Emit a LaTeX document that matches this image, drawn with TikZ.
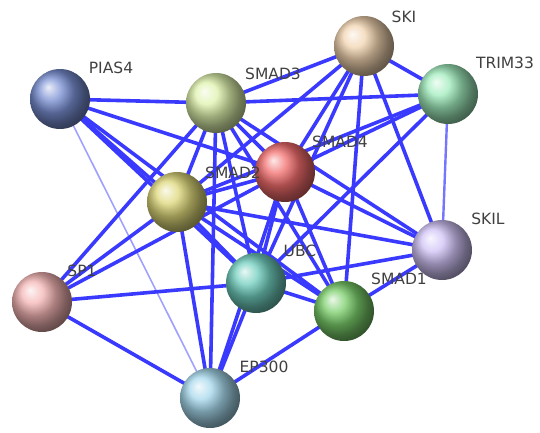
\documentclass[tikz,border=0pt]{standalone}
\usepackage{fontspec}
\setsansfont{DejaVu Sans}
\usetikzlibrary{backgrounds}
\definecolor{linkblue}{RGB}{58,58,255}
\definecolor{weakblue}{RGB}{160,160,255}
\definecolor{cPIAS}{RGB}{120,142,210}
\definecolor{cSMADiii}{RGB}{222,242,172}
\definecolor{cSKI}{RGB}{242,212,176}
\definecolor{cTRIM}{RGB}{160,236,188}
\definecolor{cSMADiv}{RGB}{242,108,108}
\definecolor{cSMADii}{RGB}{222,216,122}
\definecolor{cSKIL}{RGB}{208,194,246}
\definecolor{cUBC}{RGB}{112,206,190}
\definecolor{cSP}{RGB}{244,180,180}
\definecolor{cSMADi}{RGB}{122,206,106}
\definecolor{cEP}{RGB}{166,216,236}
\def\lblfont{\sffamily\fontsize{15.5}{16}\selectfont}
\begin{document}
\begin{tikzpicture}[x=1pt, y=-1pt,
	prot/.style={circle, minimum size=60pt, inner sep=0pt, ball color=#1},
	lbl/.style={text=black!75, font=\lblfont, inner sep=0pt},
	link/.style={line width=3.6pt, linkblue},
	weak/.style={line width=1.6pt, weakblue}]
	\useasboundingbox (0,0) rectangle (540,432);
	\node[prot=cPIAS] (pias4) at (60,99) {};
	\node[prot=cSMADiii] (smad3) at (216,103) {};
	\node[prot=cSKI] (ski) at (364,46) {};
	\node[prot=cTRIM] (trim33) at (448,94) {};
	\node[prot=cSMADiv] (smad4) at (285,172) {};
	\node[prot=cSMADii] (smad2) at (177,202) {};
	\node[prot=cSKIL] (skil) at (442,250) {};
	\node[prot=cUBC] (ubc) at (256,283) {};
	\node[prot=cSP] (sp1) at (42,302) {};
	\node[prot=cSMADi] (smad1) at (344,311) {};
	\node[prot=cEP] (ep300) at (210,398) {};
	\node[lbl] (l-pias4) at (111,68) {PIAS4};
	\node[lbl] (l-smad3) at (273,74) {SMAD3};
	\node[lbl] (l-ski) at (404,17) {SKI};
	\node[lbl] (l-trim33) at (505,63) {TRIM33};
	\node[lbl] (l-smad4) at (340,142) {SMAD4};
	\node[lbl] (l-smad2) at (233,173) {SMAD2};
	\node[lbl] (l-skil) at (488,219) {SKIL};
	\node[lbl] (l-ubc) at (300,251) {UBC};
	\node[lbl] (l-smad1) at (399,279) {SMAD1};
	\node[lbl] (l-sp1) at (82,271) {SP1};
	\node[lbl] (l-ep300) at (264,367) {EP300};
	\begin{pgfonlayer}{background}
	\draw[weak] (pias4.center) -- (ep300.center);
	\draw[link, line width=2.4pt, linkblue!70!white] (trim33.center) -- (skil.center);
	\foreach \a/\b in {pias4/smad3, pias4/smad4, pias4/smad2, pias4/ubc, pias4/smad1,
		ski/smad3, ski/smad4, ski/smad2, ski/ubc, ski/smad1, ski/skil,
		trim33/smad3, trim33/smad4, trim33/smad2, trim33/ubc, trim33/ski,
		smad3/smad4, smad3/smad2, smad3/ubc, smad3/smad1, smad3/skil, smad3/ep300, smad3/sp1,
		smad4/smad2, smad4/ubc, smad4/smad1, smad4/skil, smad4/ep300, smad4/sp1,
		smad2/ubc, smad2/smad1, smad2/skil, smad2/ep300, smad2/sp1,
		ubc/smad1, ubc/ep300, ubc/sp1, ubc/skil,
		smad1/ep300, smad1/skil, sp1/ep300}
		\draw[link] (\a.center) -- (\b.center);
	\end{pgfonlayer}
\end{tikzpicture}
\end{document}
